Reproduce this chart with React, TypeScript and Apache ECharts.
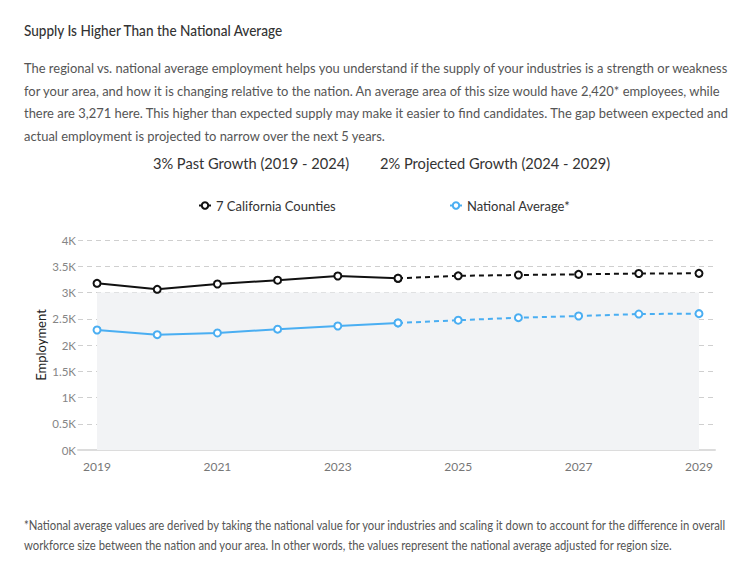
import React, { useEffect, useRef } from "react";
import * as echarts from "echarts";

const years = [2019, 2020, 2021, 2022, 2023, 2024, 2025, 2026, 2027, 2028, 2029];
const regionValues = [3175, 3061, 3162, 3234, 3314, 3271, 3318, 3333, 3346, 3362, 3365];
const nationalValues = [2286, 2196, 2229, 2301, 2362, 2420, 2472, 2520, 2552, 2590, 2597];
const xLabelYears = [2019, 2021, 2023, 2025, 2027, 2029];
const yTicks = [0, 500, 1000, 1500, 2000, 2500, 3000, 3500, 4000];
const regionName = "7 California Counties";
const nationalName = "National Average*";
const pastEndYear = 2024;

const titleText = "Supply Is Higher Than the National Average";
const paragraphLines = [
  "The regional vs. national average employment helps you understand if the supply of your industries is a strength or weakness",
  "for your area, and how it is changing relative to the nation. An average area of this size would have 2,420* employees, while",
  "there are 3,271 here. This higher than expected supply may make it easier to find candidates. The gap between expected and",
  "actual employment is projected to narrow over the next 5 years.",
];
const growthLabels = ["3% Past Growth (2019 - 2024)", "2% Projected Growth (2024 - 2029)"];
const footnoteLines = [
  "*National average values are derived by taking the national value for your industries and scaling it down to account for the difference in overall",
  "workforce size between the nation and your area. In other words, the values represent the national average adjusted for region size.",
];

const FONT = "Lato";

export default function App() {
  const ref = useRef<HTMLDivElement>(null);
  useEffect(() => {
    if (!ref.current) return;
    const chart = echarts.init(ref.current, null, { renderer: "svg" });
    const past = (arr: number[]) =>
      years.map((y, i) => (y <= pastEndYear ? [y, arr[i]] : [y, null]));
    const proj = (arr: number[]) =>
      years.map((y, i) => (y >= pastEndYear ? [y, arr[i]] : [y, null]));
    const black = "#111111";
    const blue = "#4aaef2";
    const graphics: any[] = [];
    graphics.push({
      type: "text",
      x: 24,
      y: 30,
      scaleX: 0.905,
      style: { text: titleText, fontFamily: FONT, fontSize: 15, fill: "#333", fontWeight: 500, verticalAlign: "middle" },
    });
    paragraphLines.forEach((t, i) => {
      graphics.push({
        type: "text",
        x: 24,
        y: 68 + i * 22.6,
        scaleX: 0.924,
        style: { text: t, fontFamily: FONT, fontSize: 14, fill: "#555", verticalAlign: "middle" },
      });
    });
    graphics.push({
      type: "text",
      x: 251,
      y: 163,
      scaleX: 0.915,
      style: { text: growthLabels[0], fontFamily: FONT, fontSize: 16, fill: "#333", align: "center", verticalAlign: "middle" },
    });
    graphics.push({
      type: "text",
      x: 495,
      y: 163,
      scaleX: 0.915,
      style: { text: growthLabels[1], fontFamily: FONT, fontSize: 16, fill: "#333", align: "center", verticalAlign: "middle" },
    });
    footnoteLines.forEach((t, i) => {
      graphics.push({
        type: "text",
        x: 24,
        y: 525 + i * 20,
        scaleX: 0.904,
        style: { text: t, fontFamily: FONT, fontSize: 12.5, fill: "#555", verticalAlign: "middle" },
      });
    });

    const lineBase = (color: string) => ({
      type: "line",
      symbol: "emptyCircle",
      symbolSize: 7,
      connectNulls: false,
      itemStyle: { color, borderWidth: 2 },
    });

    chart.setOption({
      animation: false,
      textStyle: { fontFamily: FONT },
      graphic: graphics,
      legend: [
        {
          data: [regionName],
          left: 193,
          top: 194,
          itemWidth: 12,
          itemHeight: 8,
          itemGap: 5,
          textStyle: { fontFamily: FONT, fontSize: 13, color: "#333" },
          selectedMode: false,
        },
        {
          data: [nationalName],
          left: 444,
          top: 194,
          itemWidth: 12,
          itemHeight: 8,
          textStyle: { fontFamily: FONT, fontSize: 13, color: "#333" },
          selectedMode: false,
        },
      ],
      grid: { left: 78, right: 36, top: 240, bottom: 124 },
      xAxis: {
        type: "value",
        min: 2018.684,
        max: 2029.266,
        axisLine: { show: true, lineStyle: { color: "#dcdcdc", width: 2 } },
        axisTick: { show: false },
        splitLine: { show: false },
        axisLabel: {
          customValues: xLabelYears,
          color: "#777",
          fontSize: 12,
          fontFamily: FONT,
          margin: 10,
          formatter: (v: number) => String(v),
        },
      },
      yAxis: {
        type: "value",
        min: 0,
        max: 4000,
        interval: 500,
        name: "Employment",
        nameLocation: "middle",
        nameRotate: 90,
        nameGap: 31,
        nameMoveOverlap: false,
        nameTextStyle: { color: "#222", fontSize: 13, fontFamily: FONT },
        axisLine: { show: false },
        axisTick: { show: false },
        axisLabel: {
          color: "#858585",
          fontSize: 11.5,
          fontFamily: FONT,
          margin: 2,
          formatter: (v: number) => (yTicks.includes(v) ? `${v / 1000}K` : ""),
        },
        splitLine: { show: true, lineStyle: { color: "#cfcfcf", type: [5, 4], width: 1 } },
      },
      series: [
        {
          ...lineBase(black),
          name: regionName,
          data: past(regionValues),
          lineStyle: { color: black, width: 2 },
          z: 4,
          markArea: {
            silent: true,
            itemStyle: { color: "#f2f3f5" },
            data: [[{ coord: [2019, 0] }, { coord: [2029, 3000] }]],
          },
        },
        {
          ...lineBase(black),
          name: regionName,
          data: proj(regionValues),
          lineStyle: { color: black, width: 2, type: [5, 4] },
          z: 3,
        },
        {
          ...lineBase(blue),
          name: nationalName,
          data: past(nationalValues),
          lineStyle: { color: blue, width: 2 },
          z: 4,
        },
        {
          ...lineBase(blue),
          name: nationalName,
          data: proj(nationalValues),
          lineStyle: { color: blue, width: 2, type: [5, 4] },
          z: 3,
        },
      ],
    });
    return () => chart.dispose();
  }, []);
  return (
    <div
      ref={ref}
      style={{ position: "fixed", left: 0, top: 0, width: 751, height: 574, background: "#fff" }}
    />
  );
}
